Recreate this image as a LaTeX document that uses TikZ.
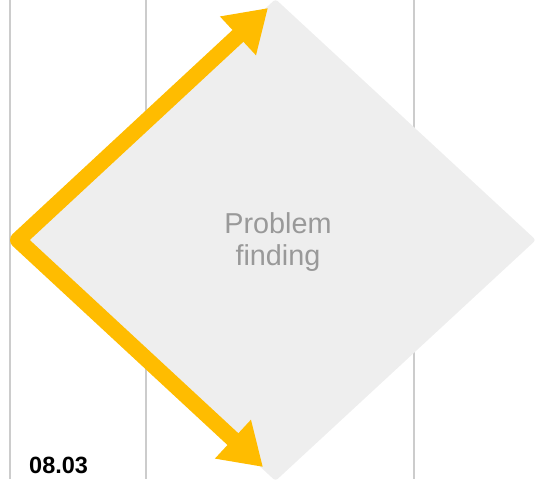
\documentclass[tikz,border=0pt]{standalone}
\usepackage{fontspec}
\setmainfont{Liberation Sans}
\usepackage{tikz}
\usetikzlibrary{shapes.geometric, arrows.meta, positioning, calc}

\definecolor{lanegray}{HTML}{CCCCCC}
\definecolor{boxgray}{HTML}{EEEEEE}
\definecolor{textgray}{HTML}{999999}
\definecolor{flowyellow}{HTML}{FFBC00}

\begin{document}
\begin{tikzpicture}[x=1pt, y=-1pt,
    lane/.style={lanegray, line width=1.8pt},
    phase/.style={diamond, fill=boxgray, inner sep=0pt, minimum width=521pt, minimum height=482pt, rounded corners=3pt},
    flow/.style={flowyellow, line width=16pt, line join=round, {Triangle[length=41pt, width=50pt]}-{Triangle[length=41pt, width=50pt]}}]
    \useasboundingbox (0,0) rectangle (535,479);

    % Lanes
    \foreach \lx in {10, 146, 414}
        \draw[lane] (\lx,0) -- (\lx,479);

    % Phase
    \node[phase] (finding) at (275.5,240) {};
    \node[textgray, align=center, font=\fontsize{28.8}{32}\selectfont] (findlabel) at (278,242) {Problem\\finding};

    % Flow arrows
    \coordinate (start) at (18,240);
    \coordinate (uptip) at (268,8);
    \coordinate (downtip) at (263,467);
    \draw[flow] (uptip) -- (start) -- (downtip);

    % Date
    \node[anchor=base west, inner sep=0pt, font=\fontsize{23.5}{26}\selectfont\bfseries] (date) at (29,473) {08.03};
\end{tikzpicture}
\end{document}
